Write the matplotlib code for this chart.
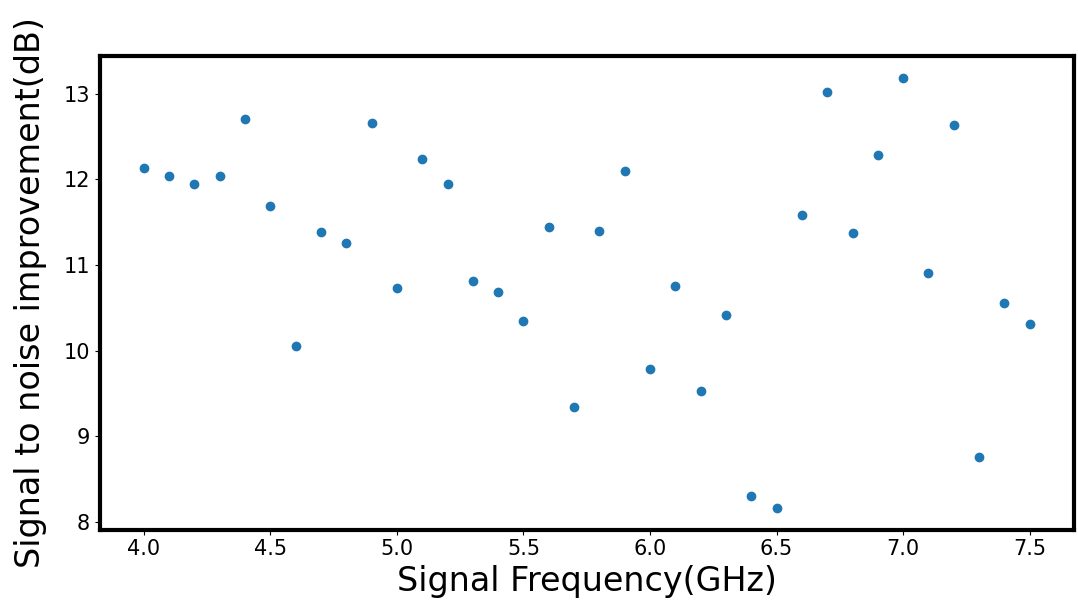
import matplotlib
matplotlib.use("Agg")
import matplotlib.pyplot as plt

freq = [4.0, 4.1, 4.2, 4.3, 4.4, 4.5, 4.6, 4.7, 4.8, 4.9,
        5.0, 5.1, 5.2, 5.3, 5.4, 5.5, 5.6, 5.7, 5.8, 5.9,
        6.0, 6.1, 6.2, 6.3, 6.4, 6.5, 6.6, 6.7, 6.8, 6.9,
        7.0, 7.1, 7.2, 7.3, 7.4, 7.5]
snr = [12.13, 12.04, 11.95, 12.04, 12.71, 11.69, 10.05, 11.39, 11.26, 12.66,
       10.73, 12.24, 11.95, 10.81, 10.68, 10.35, 11.44, 9.34, 11.40, 12.10,
       9.78, 10.75, 9.53, 10.41, 8.30, 8.16, 11.58, 13.02, 11.37, 12.28,
       13.19, 10.90, 12.63, 8.75, 10.56, 10.31]

fig = plt.figure(figsize=(10.78, 6.02), dpi=100)
ax = fig.add_axes([99.5/1078, 1 - 529.5/602, (1074-99.5)/1078, (529.5-56)/602])
ax.scatter(freq, snr, s=36, color="#1f77b4")
ax.set_xlabel("Signal Frequency(GHz)", fontsize=24, labelpad=4)
ax.set_ylabel("Signal to noise improvement(dB)", fontsize=24, labelpad=12)
ax.tick_params(labelsize=15)
for s in ax.spines.values():
    s.set_linewidth(3)
fig.savefig("out.png", dpi=100)
